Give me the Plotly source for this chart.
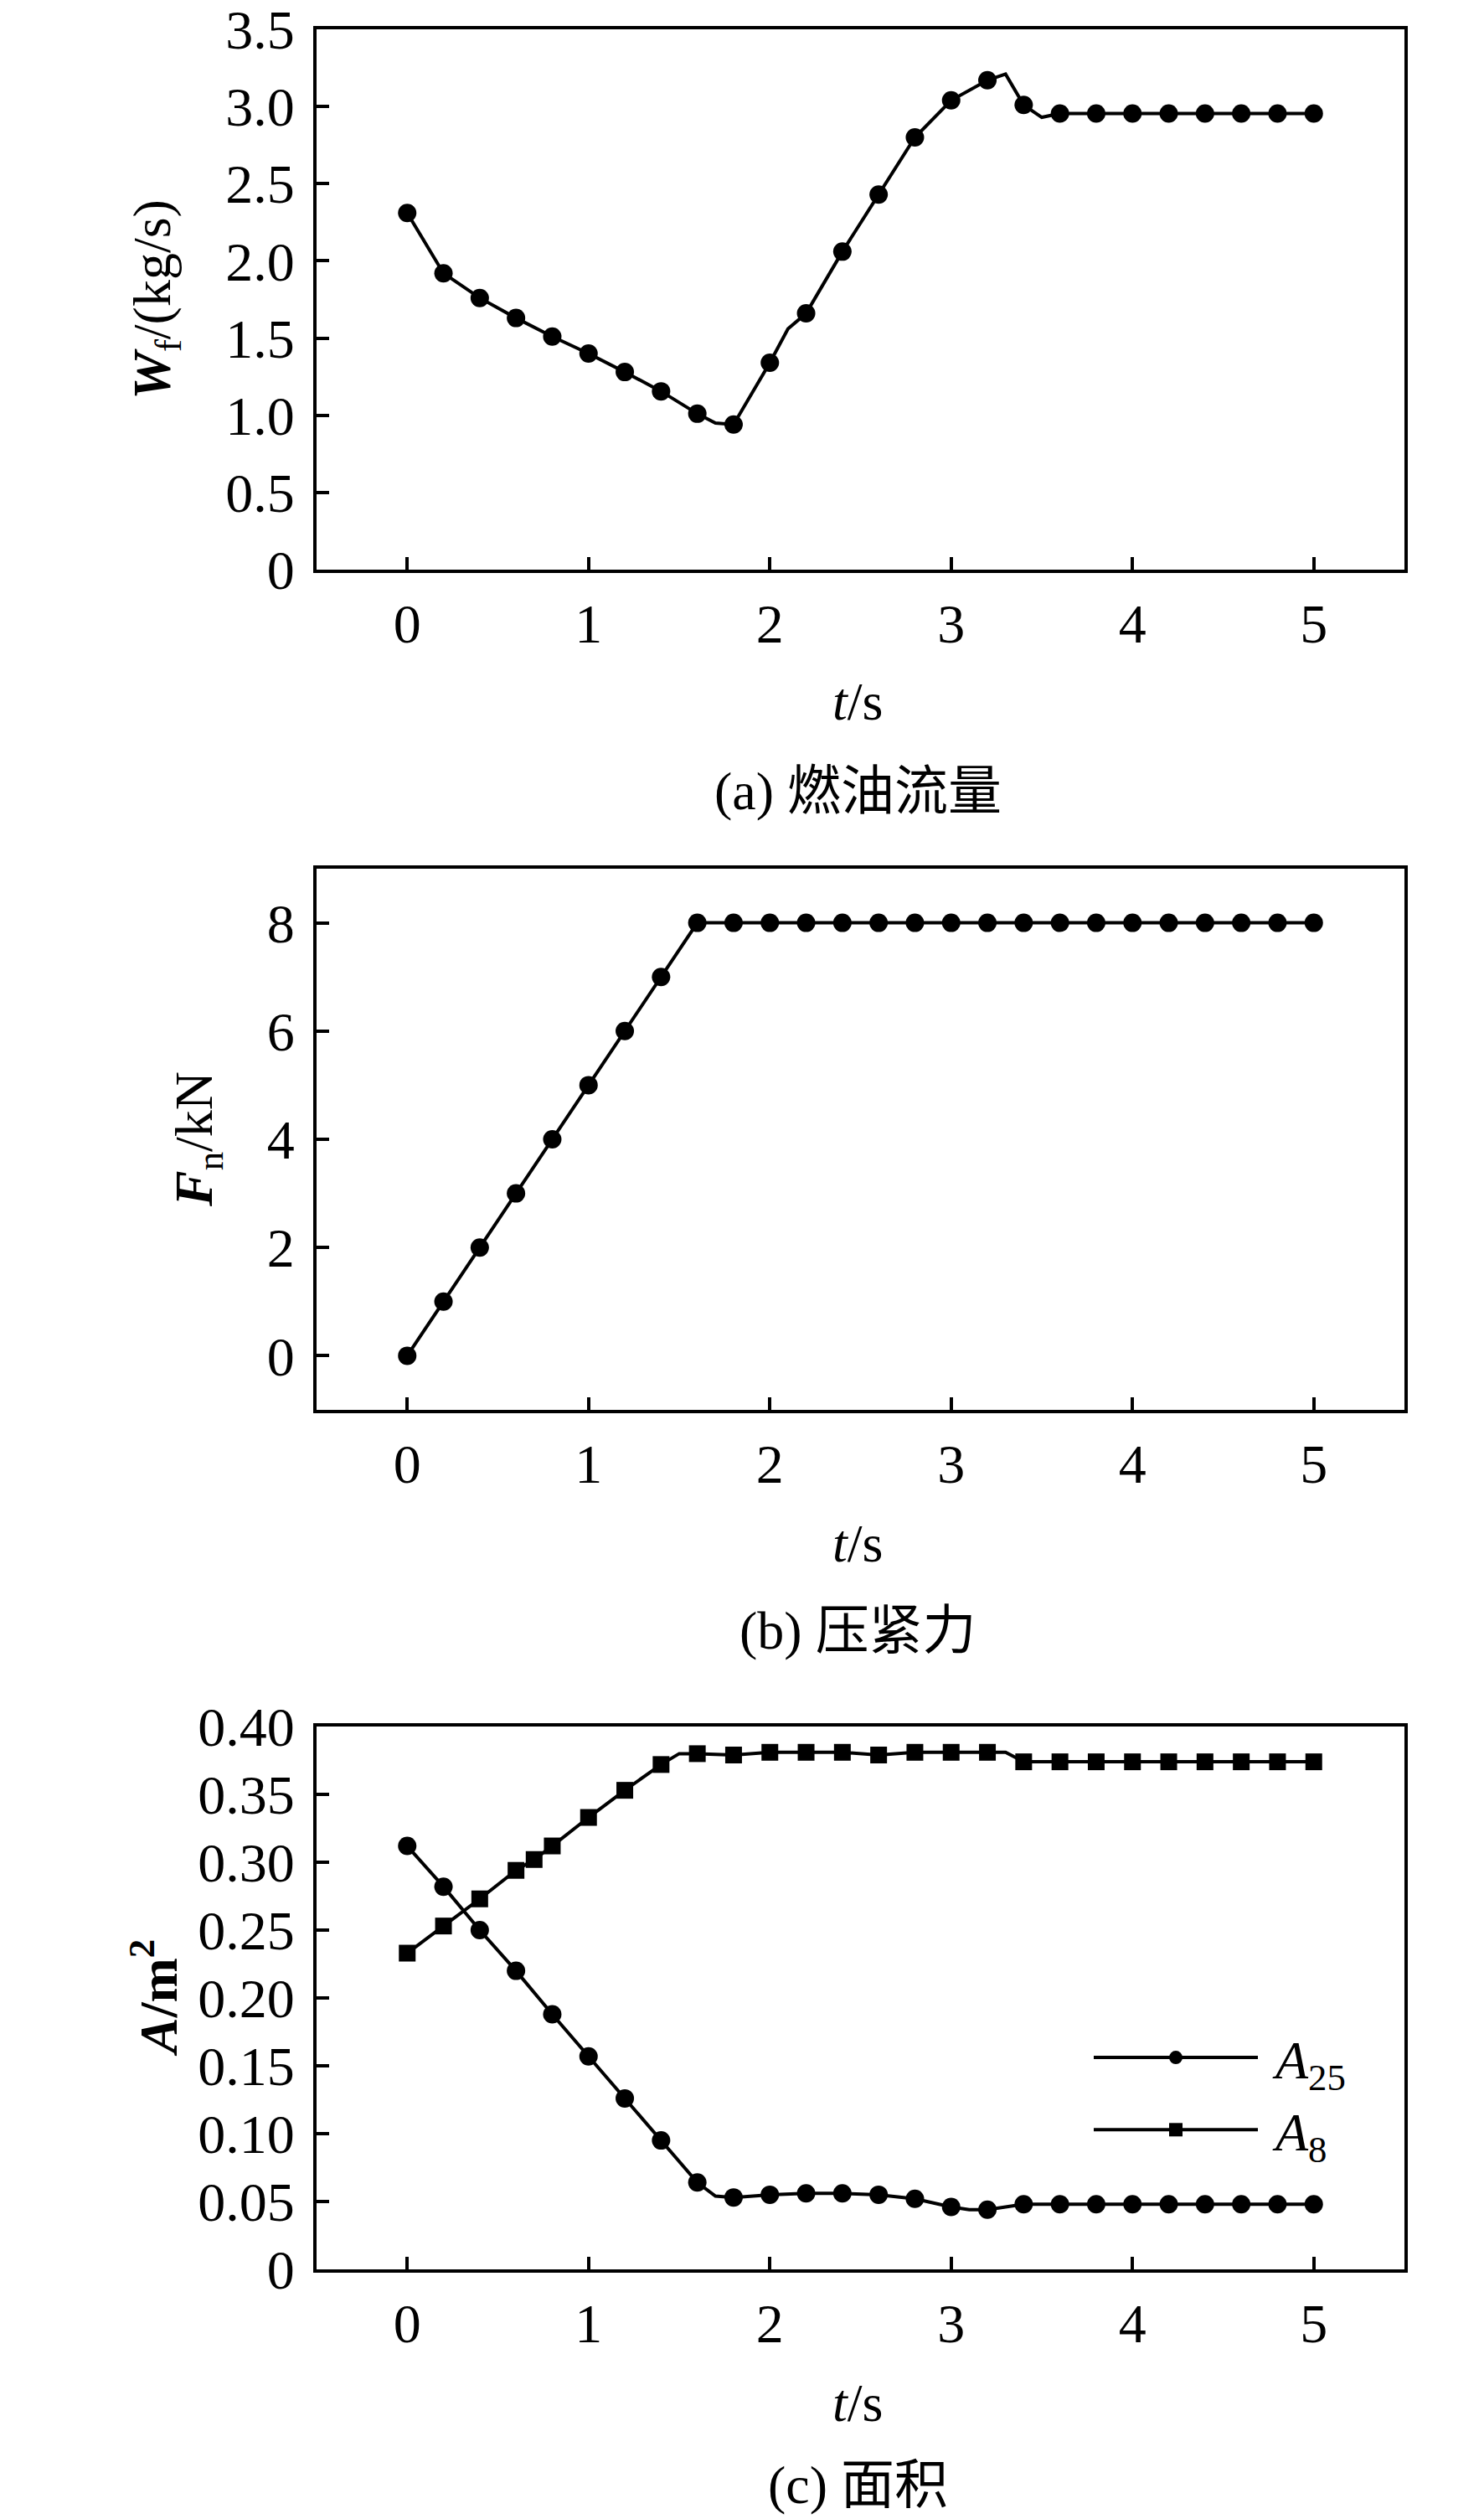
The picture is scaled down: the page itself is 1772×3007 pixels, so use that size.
import plotly.graph_objects as go

W, H = 1772, 3007

# ---------------- data ----------------
# (a) fuel flow: line vertices
t_wf = [0, 0.2, 0.4, 0.6, 0.8, 1.0, 1.2, 1.4, 1.6, 1.7, 1.8, 2.0, 2.1, 2.2, 2.4, 2.6, 2.8,
        3.0, 3.2, 3.3, 3.4, 3.5, 3.6, 3.8, 4.0, 4.2, 4.4, 4.6, 4.8, 5.0]
wf = [2.31, 1.92, 1.76, 1.63, 1.51, 1.40, 1.28, 1.155, 1.01, 0.95, 0.94, 1.34, 1.56, 1.66,
      2.06, 2.43, 2.80, 3.04, 3.17, 3.21, 3.01, 2.93, 2.955, 2.955, 2.955, 2.955, 2.955,
      2.955, 2.955, 2.955]
wf_marks = [0, 0.2, 0.4, 0.6, 0.8, 1.0, 1.2, 1.4, 1.6, 1.8, 2.0, 2.2, 2.4, 2.6, 2.8, 3.0,
            3.2, 3.4, 3.6, 3.8, 4.0, 4.2, 4.4, 4.6, 4.8, 5.0]

# (b) pressing force
t_fn = [0, 0.2, 0.4, 0.6, 0.8, 1.0, 1.2, 1.4, 1.6, 1.8, 2.0, 2.2, 2.4, 2.6, 2.8, 3.0, 3.2,
        3.4, 3.6, 3.8, 4.0, 4.2, 4.4, 4.6, 4.8, 5.0]
fn = [0, 1, 2, 3, 4, 5, 6, 7, 8, 8, 8, 8, 8, 8, 8, 8, 8, 8, 8, 8, 8, 8, 8, 8, 8, 8]
fn_marks = t_fn

# (c) areas
t_a25 = [0, 0.2, 0.4, 0.6, 0.8, 1.0, 1.2, 1.4, 1.6, 1.7, 1.8, 2.0, 2.2, 2.4, 2.6, 2.8, 3.0,
         3.1, 3.2, 3.3, 3.4, 3.6, 3.8, 4.0, 4.2, 4.4, 4.6, 4.8, 5.0]
a25 = [0.312, 0.282, 0.250, 0.220, 0.188, 0.157, 0.126, 0.095, 0.064, 0.054, 0.053, 0.055,
       0.056, 0.056, 0.055, 0.052, 0.046, 0.044, 0.044, 0.046, 0.048, 0.048, 0.048, 0.048,
       0.048, 0.048, 0.048, 0.048, 0.048]
a25_marks = [0, 0.2, 0.4, 0.6, 0.8, 1.0, 1.2, 1.4, 1.6, 1.8, 2.0, 2.2, 2.4, 2.6, 2.8, 3.0,
             3.2, 3.4, 3.6, 3.8, 4.0, 4.2, 4.4, 4.6, 4.8, 5.0]

t_a8 = [0, 0.2, 0.4, 0.6, 0.7, 0.8, 1.0, 1.2, 1.4, 1.5, 1.6, 1.8, 2.0, 2.2, 2.4, 2.6, 2.8,
        3.0, 3.2, 3.3, 3.4, 3.6, 3.8, 4.0, 4.2, 4.4, 4.6, 4.8, 5.0]
a8 = [0.233, 0.253, 0.273, 0.294, 0.302, 0.312, 0.333, 0.353, 0.372, 0.380, 0.380, 0.379,
      0.381, 0.381, 0.381, 0.379, 0.381, 0.381, 0.381, 0.381, 0.374, 0.374, 0.374, 0.374,
      0.374, 0.374, 0.374, 0.374, 0.374]
a8_marks = [0, 0.2, 0.4, 0.6, 0.7, 0.8, 1.0, 1.2, 1.4, 1.6, 1.8, 2.0, 2.2, 2.4, 2.6, 2.8,
            3.0, 3.2, 3.4, 3.6, 3.8, 4.0, 4.2, 4.4, 4.6, 4.8, 5.0]

x_ticks = [0, 1, 2, 3, 4, 5]
wf_ticks = [0, 0.5, 1.0, 1.5, 2.0, 2.5, 3.0, 3.5]
wf_ticktext = ["0", "0.5", "1.0", "1.5", "2.0", "2.5", "3.0", "3.5"]
fn_ticks = [0, 2, 4, 6, 8]
fn_ticktext = ["0", "2", "4", "6", "8"]
a_ticks = [0, 0.05, 0.10, 0.15, 0.20, 0.25, 0.30, 0.35, 0.40]
a_ticktext = ["0", "0.05", "0.10", "0.15", "0.20", "0.25", "0.30", "0.35", "0.40"]

# ---------------- style ----------------
FONT = "Liberation Serif, Times New Roman, Noto Sans CJK SC, serif"
FS = 64
MS = 22
LW = 4
OFF = 4  # page body margin compensation


def sizes(ts, marks, s):
    return [s if any(abs(t - m) < 1e-9 for m in marks) else 0 for t in ts]


def py(p):
    return 1 - (p - OFF) / H


def px(p):
    return (p - OFF) / W


def mk(symbol, ts, marks, s):
    return dict(symbol=symbol, color="#000000", opacity=1, line=dict(width=0),
                size=sizes(ts, marks, s))


fig = go.Figure()

fig.add_trace(go.Scatter(x=t_wf, y=wf, mode="lines+markers", xaxis="x", yaxis="y",
                         line=dict(color="black", width=LW),
                         marker=mk("circle", t_wf, wf_marks, MS), showlegend=False))
fig.add_trace(go.Scatter(x=t_fn, y=fn, mode="lines+markers", xaxis="x2", yaxis="y2",
                         line=dict(color="black", width=LW),
                         marker=mk("circle", t_fn, fn_marks, MS), showlegend=False))
fig.add_trace(go.Scatter(x=t_a25, y=a25, mode="lines+markers", xaxis="x3", yaxis="y3",
                         name="\u00a0<i>A</i><sub>25</sub>",
                         line=dict(color="black", width=LW),
                         marker=mk("circle", t_a25, a25_marks, MS)))
fig.add_trace(go.Scatter(x=t_a8, y=a8, mode="lines+markers", xaxis="x3", yaxis="y3",
                         name="\u00a0<i>A</i><sub>8</sub>",
                         line=dict(color="black", width=LW),
                         marker=mk("square", t_a8, a8_marks, MS - 2)))

XDOM = [px(374), px(1673)]
panels = [
    (31, 676, [0, 3.5], wf_ticks, wf_ticktext),
    (1033, 1679, [-1, 9], fn_ticks, fn_ticktext),
    (2057, 2705, [0, 0.40], a_ticks, a_ticktext),
]

axis_common = dict(showline=True, linewidth=4, linecolor="black", mirror=True,
                   ticks="inside", ticklen=15, tickwidth=4, tickcolor="black",
                   showgrid=False, zeroline=False, automargin=False,
                   ticklabeloverflow="allow",
                   tickfont=dict(family=FONT, size=66, color="black"))

layout = dict(width=W, height=H, margin=dict(l=0, r=0, t=0, b=0),
              paper_bgcolor="white", plot_bgcolor="white",
              font=dict(family=FONT, size=FS, color="black"))

for i, (top, bot, yr, tv, tt) in enumerate(panels):
    sfx = "" if i == 0 else str(i + 1)
    layout["xaxis" + sfx] = dict(domain=XDOM, range=[-0.5, 5.5], anchor="y" + sfx,
                                  tickvals=x_ticks, ticklabelstandoff=4, **axis_common)
    layout["yaxis" + sfx] = dict(domain=[py(bot), py(top)], range=yr, anchor="x" + sfx,
                                  tickvals=tv, ticktext=tt, ticklabelstandoff=9, **axis_common)

fig.update_layout(**layout)

fig.update_layout(legend=dict(x=px(1297), y=py(2404), xanchor="left", yanchor="top",
                              itemwidth=196, bgcolor="rgba(0,0,0,0)",
                              font=dict(family=FONT, size=FS, color="black"),
                              tracegroupgap=0))

ann = []


def text(x, y, s, angle=0, size=FS):
    ann.append(dict(x=px(x), y=py(y), xref="paper", yref="paper", text=s, showarrow=False,
                    xanchor="center", yanchor="middle", textangle=angle,
                    font=dict(family=FONT, size=size, color="black")))


# x-axis titles and captions
text(1020, 834, "<i>t</i>/s")
text(1020, 940, "(a) 燃油流量")
text(1020, 1838, "<i>t</i>/s")
text(1020, 1942, "(b) 压紧力")
text(1020, 2864, "<i>t</i>/s")
text(1020, 2962, "(c) 面积")
# y-axis titles
text(182, 354, "<b><i>W</i></b><sub>f</sub>/(kg/s)", angle=-90)
text(232, 1356, "<b><i>F</i></b><sub>n</sub>/kN", angle=-90)
text(180, 2381, "<b><i>A</i>/m<sup>2</sup></b>", angle=-90)

fig.update_layout(annotations=ann)

fig.write_html("out.html")
